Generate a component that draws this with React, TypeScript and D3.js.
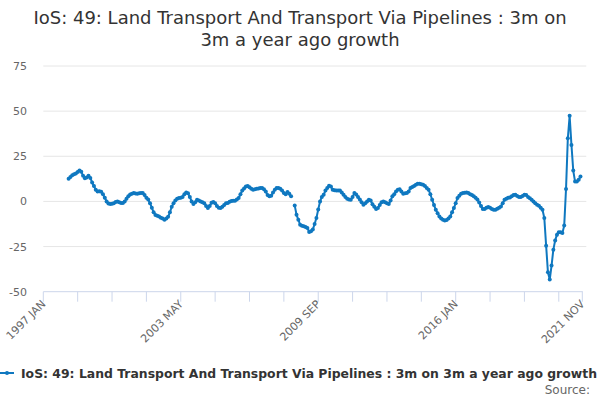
import React from "react";
import * as d3 from "d3";

const TITLE_LINES = ["IoS: 49: Land Transport And Transport Via Pipelines : 3m on", "3m a year ago growth"];
const SERIES_NAME = "IoS: 49: Land Transport And Transport Via Pipelines : 3m on 3m a year ago growth";
const MONTHS = ["JAN", "FEB", "MAR", "APR", "MAY", "JUN", "JUL", "AUG", "SEP", "OCT", "NOV", "DEC"];
const START_YEAR = 1997;
const N_CATEGORIES = 299;
const Y_TICKS = [-50, -25, 0, 25, 50, 75];
const X_TICK_STEP = 19;
const X_LABEL_INDICES = [0, 76, 152, 228, 298];

const categories: string[] = Array.from({ length: N_CATEGORIES }, (_, i) => `${START_YEAR + Math.floor(i / 12)} ${MONTHS[i % 12]}`);

// values from 1998 MAR (index 14) onwards; null = no data
const VALUES_SEG1 = [
  12.5, 13.5, 14.5, 15, 15.5, 16.3, 17.1, 16.5, 14.2, 12.9, 13.2, 14.2, 13, 10.5, 8.5, 6.5, 5.5, 5.6, 5.4, 4,
  2, 0, -1.2, -1.4, -1.3, -1, -0.3, 0, -0.5, -0.9, -0.9, 0, 1.5, 2.8, 3.8, 4.3, 4.6, 4.4, 4.3, 4.5,
  4.6, 4.6, 3.5, 2, 1, -1, -3.5, -6, -7.5, -8, -8.3, -9, -9.5, -10.1, -9.5, -8.5, -6, -3, -1, 0.5,
  1.5, 1.9, 2, 2.5, 4, 5, 4.5, 2.5, 0, -1.4, -0.5, 0.9, 0.5, 0, -0.5, -1, -2.5, -3.7, -2.5, -0.8,
  -0.3, -1, -2.5, -3.5, -3.7, -3, -2, -1, -0.9, -0.2, 0.3, 0.4, 0.4, 1, 1.9, 4, 6, 7.2, 8.3, 8.5,
  7.8, 7, 6.5, 6.7, 7, 7.2, 7.5, 7.4, 6.8, 5.5, 3.5, 2.8, 3.2, 5, 6.5, 7.4, 7.4, 7, 6, 4.6,
  4, 5.2, 4.2, 2.8,
];
const VALUES_SEG2 = [
  -2.2, -7.4, -10.1, -12.9, -13.5, -13.8, -14.2, -14.7, -16.9, -16.5, -15.6, -12.5, -9.2, -4.5, 0, 2.5, 3.7, 6, 7.5, 8.7,
  8.3, 6.5, 6.2, 6.1, 6, 6.1, 5, 3.7, 2.5, 1.5, 1, 0.9, 2.5, 4.6, 3.8, 2.5, 1, -0.5, -1.8, -1,
  0, 0.9, 0.5, -1.5, -3, -4.2, -3.7, -2, -0.5, 0, -0.5, -1, -1.4, 0.5, 2.8, 4, 5.5, 6.5, 6.8, 5.5,
  4.3, 4.5, 4.6, 5.5, 7.4, 8, 8.5, 9.2, 9.8, 9.8, 9.5, 9.2, 8.5, 7.5, 6.5, 4, 0.9, -2, -4.6, -6.5,
  -8.3, -9.5, -10.2, -10.5, -10.3, -9.5, -8.3, -6, -3.7, -1, 1.9, 3.2, 4.3, 4.6, 4.8, 5, 4.6, 4, 3.5, 2.8,
  2, 1, -0.6, -2.5, -4.2, -4.2, -3.5, -3.1, -3.5, -4.2, -4.6, -4.6, -4, -3.5, -2.8, -1, 0.9, 1.5, 2, 2.2,
  2.8, 3.5, 3.7, 3, 2.4, 2.5, 3, 3.7, 3.5, 2.5, 1.8, 0.9, 0, -1, -1.8, -2.4, -3.5, -4.6, -9.2, -24.5,
  -39.2, -43.3, -35.5, -26.7, -21.6, -18.4, -17.1, -17.1, -17.5, -13.4, 6.9, 35, 47.4, 31.3, 17.1, 11, 11, 12, 13.8,
];

const values: (number | null)[] = [
  ...Array(14).fill(null),
  ...VALUES_SEG1,
  null,
  ...VALUES_SEG2,
];

const COLOR = "#0f78c0";
const FONT = "'DejaVu Sans', 'Lucida Grande', sans-serif";

export default function App() {
  const W = 600, H = 400;
  const left = 43.3, right = 582.3, top = 66, bottom = 291.7;
  const x = d3.scaleLinear().domain([0, N_CATEGORIES - 1]).range([left, right]);
  const y = d3.scaleLinear().domain([-50, 75]).range([bottom, top]);
  const pts = values.map((v, i) => ({ i, v }));
  const line = d3
    .line<{ i: number; v: number | null }>()
    .defined((d) => d.v !== null)
    .x((d) => x(d.i))
    .y((d) => y(d.v as number));
  const xTicks = d3.range(0, N_CATEGORIES, X_TICK_STEP).concat([N_CATEGORIES - 1]);

  return (
    <svg width={W} height={H} style={{ position: "absolute", left: 0, top: 0, fontFamily: FONT }}>
      <rect width={W} height={H} fill="#fff" />
      {TITLE_LINES.map((t, k) => (
        <text key={k} x={W / 2} y={24 + k * 22} textAnchor="middle" fontSize={18} fill="#333">
          {t}
        </text>
      ))}
      {Y_TICKS.map((t) => (
        <g key={t}>
          {t !== -50 && <line x1={left} x2={right + 4} y1={y(t)} y2={y(t)} stroke="#e6e6e6" />}
          <text x={27} y={y(t) + 4} textAnchor="end" fontSize={11} fill="#666">
            {t}
          </text>
        </g>
      ))}
      <line x1={left} x2={right + 0.5} y1={bottom} y2={bottom} stroke="#ccd6eb" />
      {xTicks.map((t) => (
        <line key={t} x1={x(t)} x2={x(t)} y1={bottom} y2={bottom + 10} stroke="#ccd6eb" />
      ))}
      {X_LABEL_INDICES.map((i) => (
        <text
          key={i}
          transform={`translate(${x(i) + 3},${bottom + 13}) rotate(-45)`}
          textAnchor="end"
          fontSize={11}
          fill="#666"
        >
          {categories[i]}
        </text>
      ))}
      <path d={line(pts) || ""} fill="none" stroke={COLOR} strokeWidth={2} strokeLinejoin="round" />
      {pts
        .filter((d) => d.v !== null)
        .map((d) => (
          <circle key={d.i} cx={x(d.i)} cy={y(d.v as number)} r={2} fill={COLOR} />
        ))}
      <g>
        <line x1={0} x2={14} y1={373} y2={373} stroke={COLOR} strokeWidth={2} />
        <circle cx={7} cy={373} r={2} fill={COLOR} />
        <text x={21} y={377.5} fontSize={12.5} fontWeight="bold" fill="#333" textLength={576} lengthAdjust="spacingAndGlyphs">
          {SERIES_NAME}
        </text>
      </g>
      <text x={590} y={394} textAnchor="end" fontSize={12} fill="#666">
        Source:
      </text>
    </svg>
  );
}
